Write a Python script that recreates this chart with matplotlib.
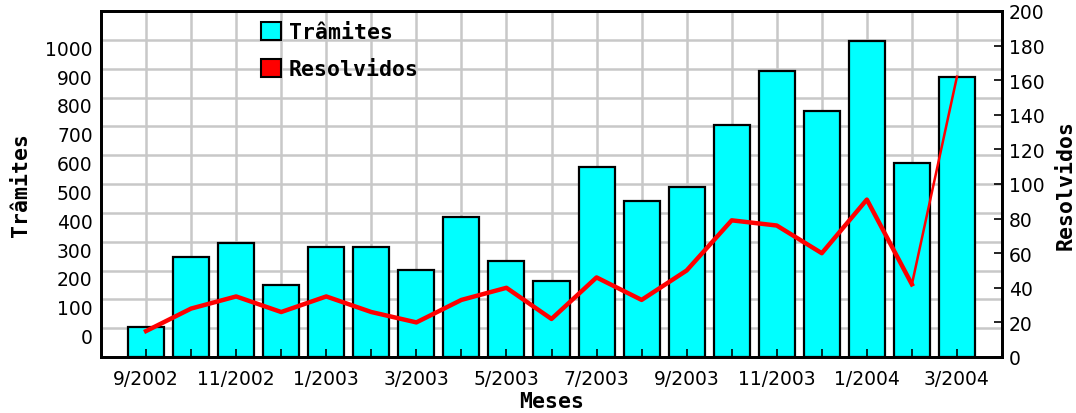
import numpy as np
import matplotlib
matplotlib.use('Agg')
import matplotlib.pyplot as plt
from matplotlib.patches import Patch

# dados
meses = ['9/2002', '10/2002', '11/2002', '12/2002', '1/2003', '2/2003', '3/2003',
         '4/2003', '5/2003', '6/2003', '7/2003', '8/2003', '9/2003', '10/2003',
         '11/2003', '12/2003', '1/2004', '2/2004', '3/2004']
tramites = [5, 248, 294, 150, 281, 281, 203, 385, 232, 163, 558, 440, 489, 705,
            893, 752, 995, 572, 870]
resolvidos = [15, 28, 35, 26, 35, 26, 20, 33, 40, 22, 46, 33, 50, 79,
              76, 60, 91, 42, 162]

x = np.arange(len(meses))
ymin_esq = -100

fig = plt.figure(figsize=(10.76, 4.14), dpi=100)
ax = fig.add_axes([101/1076, 56/414, 901/1076, 346/414])
ax2 = ax.twinx()

# barras (eixo esquerdo)
ax.bar(x, np.array(tramites) - ymin_esq, bottom=ymin_esq, width=0.8,
       color='#00ffff', edgecolor='black', linewidth=1.6, zorder=2)
ax.set_xlim(-1, len(meses))
ax.set_ylim(ymin_esq, 1100)
ax.set_yticks(np.arange(0, 1001, 100))
ax.set_axisbelow(True)
ax.grid(True, color='#c8c8c8', linewidth=1.8)
ax.set_xticks(x)
ax.set_xticklabels([m if i % 2 == 0 else '' for i, m in enumerate(meses)])
ax.tick_params(axis='x', length=0, pad=9, labelsize=13.5)
ax.tick_params(axis='y', length=0, pad=6, labelsize=13.5)
for t in ax.get_yticklabels():
    t.set_verticalalignment('top')

# linha (eixo direito) - o ultimo trecho sai mais fino no original
ax2.plot(x[:-1], resolvidos[:-1], color='red', linewidth=3.2, zorder=3,
         solid_joinstyle='round')
ax2.plot(x[-2:], resolvidos[-2:], color='red', linewidth=1.8, zorder=3)
ax2.set_ylim(0, 200)
ax2.set_yticks(np.arange(0, 201, 20))
ax2.tick_params(axis='y', direction='in', length=6, width=1.2, pad=5, labelsize=13.5)
ax2.xaxis.set_visible(True)
ax2.tick_params(axis='x', direction='in', length=6, width=1.2, labelbottom=False, bottom=True)

for a in (ax, ax2):
    for s in a.spines.values():
        s.set_linewidth(2)
        s.set_color('black')

mono = {'family': 'DejaVu Sans Mono', 'weight': 'bold', 'size': 15.5}
ax.set_ylabel('Trâmites', fontdict=mono, labelpad=10)
ax2.set_ylabel('Resolvidos', fontdict=mono, labelpad=8)
ax.set_xlabel('Meses', fontdict=mono, labelpad=2)

handles = [Patch(facecolor='#00ffff', edgecolor='black', linewidth=1.5),
           Patch(facecolor='red', edgecolor='black', linewidth=1.5)]
ax2.legend(handles, ['Trâmites', 'Resolvidos'], loc='upper left',
           bbox_to_anchor=(0.156, 1.025), frameon=False,
           prop={'family': 'DejaVu Sans Mono', 'weight': 'bold', 'size': 15.5},
           handlelength=0.95, handleheight=0.95, handletextpad=0.35, labelspacing=0.75)

fig.savefig('out.png', dpi=100)
